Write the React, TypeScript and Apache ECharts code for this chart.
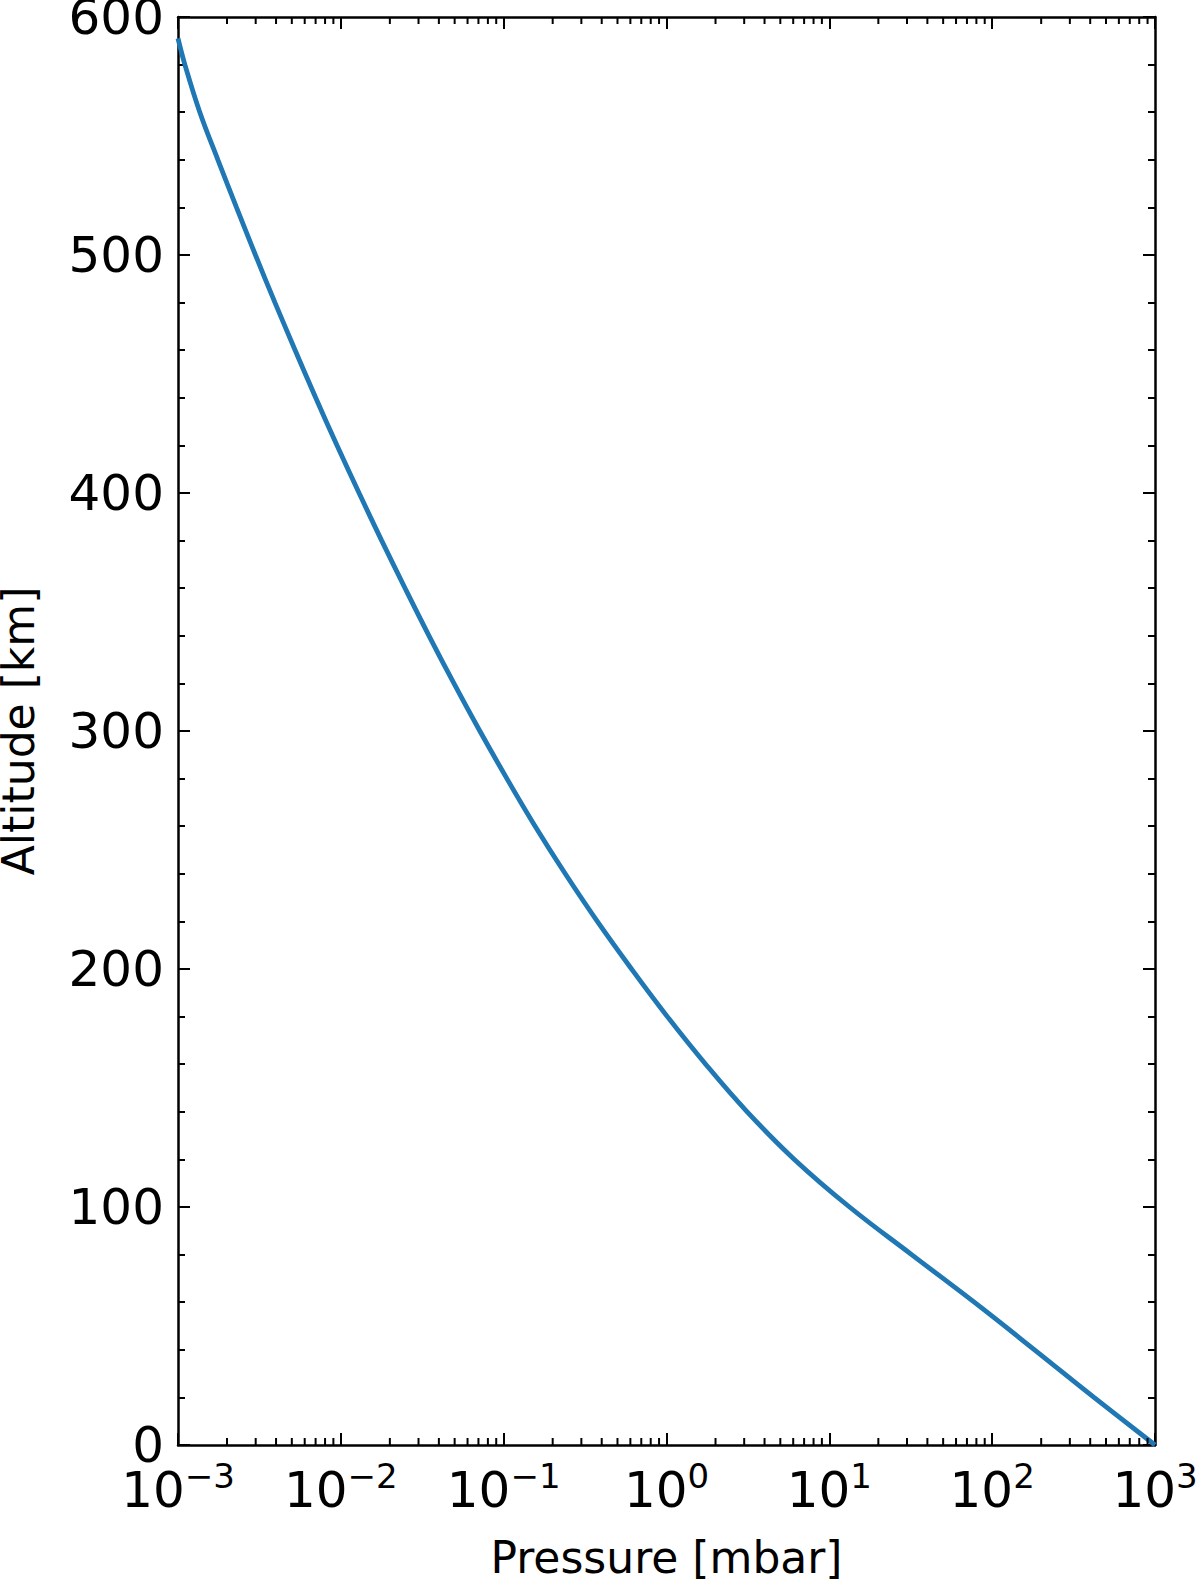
import React, { useEffect, useRef } from 'react';
import * as echarts from 'echarts';

// Altitude profile
const altitudeKm = [0, 20, 40, 60, 80, 100, 120, 140, 160, 180, 200, 220, 240, 260, 280, 300, 320, 340, 360, 380, 400, 420, 440, 460, 480, 500, 520, 540, 560, 580, 591];
const pressureMbar = [1000, 422, 182, 77.6, 32.0, 13.3, 6.1, 3.13, 1.74, 1.012, 0.61, 0.376, 0.239, 0.156, 0.1047, 0.0714, 0.0495, 0.0348, 0.0248, 0.01782, 0.01294, 0.00948, 0.00701, 0.00524, 0.00394, 0.00299, 0.002286, 0.001758, 0.001361, 0.001102, 0.001];

// Axis ticks
const xTickValues = [0.001, 0.01, 0.1, 1, 10, 100, 1000];
const xTickExponents = ['\u22123', '\u22122', '\u22121', '0', '1', '2', '3'];
const xMinorMultipliers = [2, 3, 4, 5, 6, 7, 8, 9];
const yMin = 0;
const yMax = 600;
const yInterval = 100;

const FONT = 'DejaVu Sans';

export default function App() {
  const ref = useRef<HTMLDivElement>(null);

  useEffect(() => {
    document.body.style.margin = '0';
    if (!ref.current) return;
    const chart = echarts.init(ref.current, undefined, { renderer: 'svg' });

    const minorTicks: number[][] = [];
    xTickValues.slice(0, -1).forEach((d) => {
      xMinorMultipliers.forEach((m) => minorTicks.push([d * m, yMin]));
    });

    const lineData = pressureMbar.map((p, i) => [p, altitudeKm[i]]);

    const xFormatter = (value: number) => {
      const idx = xTickValues.findIndex((v) => Math.abs(Math.log10(v) - Math.log10(value)) < 1e-6);
      if (idx < 0) return '';
      return '{b|10}{s|' + xTickExponents[idx] + '}';
    };

    const axisLineStyle = { color: '#000', width: 2.5 };
    const tickStyle = { color: '#000', width: 2 };

    const baseX = {
      type: 'log',
      logBase: 10,
      min: xTickValues[0],
      max: xTickValues[xTickValues.length - 1],
      gridIndex: 0,
      axisLine: { show: true, onZero: false, lineStyle: axisLineStyle },
      axisTick: { show: true, inside: true, length: 12, lineStyle: tickStyle },
      splitLine: { show: false },
      minorTick: { show: false },
      minorSplitLine: { show: false },
    };

    const baseY = {
      type: 'value',
      min: yMin,
      max: yMax,
      interval: yInterval,
      gridIndex: 0,
      axisLine: { show: true, onZero: false, lineStyle: axisLineStyle },
      axisTick: { show: true, inside: true, length: 12, lineStyle: tickStyle },
      minorTick: { show: true, splitNumber: 5, length: 7, lineStyle: tickStyle },
      splitLine: { show: false },
    };

    const option: any = {
      animation: false,
      backgroundColor: '#fff',
      grid: { left: 178, right: 45, top: 17, bottom: 134, containLabel: false, outerBoundsMode: 'none' },
      xAxis: [
        {
          ...baseX,
          position: 'bottom',
          name: 'Pressure [mbar]',
          nameLocation: 'middle',
          nameGap: 90,
          nameTextStyle: { fontFamily: FONT, fontSize: 44, color: '#000' },
          axisLabel: {
            show: true,
            margin: 14,
            showMinLabel: true,
            showMaxLabel: true,
            hideOverlap: false,
            formatter: xFormatter,
            rich: {
              b: { fontFamily: FONT, fontSize: 50, lineHeight: 62, color: '#000' },
              s: { fontFamily: FONT, fontSize: 34, lineHeight: 34, color: '#000', verticalAlign: 'top' },
            },
          },
        },
        {
          ...baseX,
          position: 'top',
          axisLabel: { show: false },
        },
      ],
      yAxis: [
        {
          ...baseY,
          position: 'left',
          name: 'Altitude [km]',
          nameLocation: 'middle',
          nameGap: 138,
          nameTextStyle: { fontFamily: FONT, fontSize: 44, color: '#000' },
          axisLabel: {
            show: true,
            margin: 14,
            fontFamily: FONT,
            fontSize: 50,
            color: '#000',
            padding: [10, 0, 0, 0],
            showMinLabel: true,
            showMaxLabel: true,
          },
        },
        {
          ...baseY,
          position: 'right',
          axisLabel: { show: false },
        },
      ],
      series: [
        {
          type: 'line',
          xAxisIndex: 0,
          yAxisIndex: 0,
          data: lineData,
          showSymbol: false,
          smooth: 0.4,
          lineStyle: { color: '#1f77b4', width: 4.8 },
          itemStyle: { color: '#1f77b4' },
          z: 2,
        },
        {
          type: 'custom',
          xAxisIndex: 0,
          yAxisIndex: 0,
          silent: true,
          clip: false,
          z: 5,
          encode: { x: 0, y: 1 },
          data: minorTicks,
          renderItem: (_params: any, api: any) => {
            const v = api.value(0);
            const b = api.coord([v, yMin]);
            const t = api.coord([v, yMax]);
            const style = { stroke: '#000', lineWidth: 2 };
            return {
              type: 'group',
              children: [
                { type: 'line', shape: { x1: b[0], y1: b[1], x2: b[0], y2: b[1] - 7 }, style },
                { type: 'line', shape: { x1: t[0], y1: t[1], x2: t[0], y2: t[1] + 7 }, style },
              ],
            };
          },
        },
      ],
    };

    chart.setOption(option);
    return () => chart.dispose();
  }, []);

  return <div ref={ref} style={{ width: 1200, height: 1579 }} />;
}
